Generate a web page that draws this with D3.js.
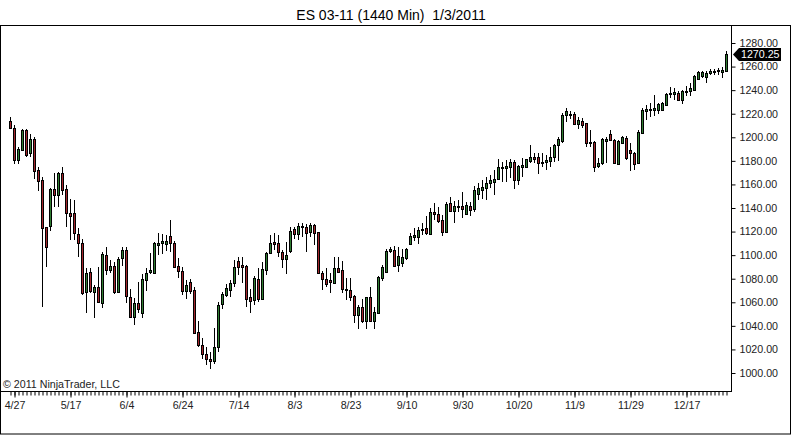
<!DOCTYPE html>
<html><head><meta charset="utf-8">
<script src="https://cdn.jsdelivr.net/npm/d3@7"></script>
<style>
body{margin:0;background:#fff;}
svg{display:block;}
text{font-family:"Liberation Sans",Arial,sans-serif;white-space:pre;}
</style></head>
<body>
<svg id="c" width="792" height="436"></svg>
<script>
// ---- data ----
const openV = [1213.8,1207.6,1180.7,1189.2,1206.2,1186.4,1198.5,1172.2,1163.7,1123.6,
1124.7,1155.8,1151,1170,1155.8,1135.5,1135.5,1118,1110,1069,
1085.7,1069,1072.7,1059.7,1100,1087.4,1090.8,1069,1097.3,1104.4,
1064.2,1047.8,1059.1,1050.6,1078.9,1085.7,1085,1108.9,1110,1109.4,
1116.2,1110.6,1090.8,1086.8,1069.9,1077.5,1070.4,1035,1024,1016,
1012,1010,1022,1058.5,1066.2,1070.4,1076,1095,1091.6,1090.8,
1064.2,1061.9,1079.7,1062.8,1087.4,1101.5,1110.9,1110,1102.4,1096.4,
1103.8,1121.9,1117.9,1123.6,1123.6,1119.6,1125.6,1119.3,1084.6,1079.5,
1078.9,1076.6,1088.8,1087.4,1071.6,1070.4,1065.3,1049.2,1055.7,1044.4,
1064.2,1044.4,1051.2,1080.3,1086,1103.2,1104.4,1091.6,1093.6,1097.3,
1109.4,1115.7,1115.1,1121,1123.3,1118,1136.9,1134.9,1129.8,1119.9,
1144.5,1137.7,1141.7,1141.5,1134.9,1142,1139,1151.9,1155.3,1156.7,
1161.5,1162.3,1164.3,1173.6,1173.6,1174.5,1179.3,1163.7,1174.5,1175,
1180.1,1183,1183,1179.3,1179.3,1180.1,1183,1193.4,1197.1,1218.9,
1219.2,1219.7,1211.3,1214.1,1211.8,1196.3,1196.3,1175.6,1177.9,1197.1,
1202.8,1197.7,1177.3,1195.4,1199,1189.2,1187,1177.9,1203.9,1222.6,
1223.1,1223.4,1223.4,1223.4,1227.6,1236.7,1236.7,1237.5,1231.9,1238.4,
1239.5,1240.4,1249.7,1251.7,1250.8,1254.5,1255.4,1256,1255.4,1256];
const highV = [1217,1210.4,1192,1207.3,1207.3,1202.8,1200,1175,1166.6,1124.2,
1156.7,1169.4,1170.8,1175,1159.5,1147.3,1146.8,1122.7,1113.4,1088.8,
1088.8,1074.7,1090.2,1103,1107,1095.9,1094.5,1098.7,1107.2,1107.2,
1071,1063.3,1077.5,1084,1088.8,1101.5,1111.4,1118.5,1118,1117,
1129.8,1112,1097.3,1090.2,1078.9,1079.5,1072.7,1044.4,1030,1022,
1018,1038,1060.5,1069,1075.5,1078.9,1095.9,1098.7,1098.7,1091.5,
1071,1082,1088.8,1094.5,1103,1117,1118.5,1117,1104,1111.4,
1124.2,1123.6,1127,1127.5,1126.4,1127,1126.4,1119.9,1086.8,1088.8,
1084.6,1098.1,1098.1,1095.3,1080.3,1080.3,1066.2,1057.7,1062.5,1064.8,
1072.7,1055.7,1082.3,1091.6,1104.9,1107.2,1107.7,1106.6,1104.9,1105.8,
1118.5,1122.7,1123.6,1127,1133.2,1139.7,1143.9,1140.6,1134,1145.4,
1149.6,1146.2,1146.8,1153.5,1145,1145,1158.6,1161.5,1163.7,1166,
1168,1172.2,1181.3,1179.3,1180.7,1181.3,1180.7,1176.5,1182.1,1181.8,
1193.4,1187,1187,1186.4,1185,1192,1194.3,1200,1220.3,1224.5,
1222.6,1221.7,1216.9,1216,1212.4,1206.2,1197.1,1182.1,1199.1,1200.5,
1206.2,1198.2,1198,1201,1201,1194.9,1187.8,1206.2,1224.5,1227.4,
1229,1236.1,1229,1230,1237.5,1242.4,1241.8,1239,1240.4,1243.2,
1246,1252.5,1256.5,1256.5,1256.5,1258.2,1258.2,1258.8,1259.3,1273.5];
const lowV = [1207,1177.3,1177,1188.6,1183,1183.5,1164.3,1154.7,1055.7,1090.2,
1120.8,1140.6,1140.6,1151,1123.6,1112.8,1112.8,1098.7,1066,1050.6,
1067.6,1046.4,1059.7,1054.9,1083,1085,1067,1067.6,1090.8,1059.1,
1046.4,1040.7,1050.6,1046.4,1069.9,1084,1084,1100,1101,1103.8,
1103,1088.8,1080.3,1066.2,1062.5,1067,1033.7,1022.3,1012,1007,
1003,1008,1018,1054,1064.8,1064.8,1072.7,1083.1,1076,1056.3,
1050.6,1058,1060.5,1062,1083,1101,1104.4,1098.7,1088.8,1084,
1101.5,1113.4,1112.8,1115.7,1103,1115.7,1108.6,1084,1070.4,1072.7,
1068.2,1075.5,1084.6,1068.2,1061.9,1061.4,1042.1,1037,1042.1,1037,
1043.6,1037,1050.6,1078,1085.1,1101.5,1089.6,1086,1090.2,1095.9,
1108.6,1112.3,1109.4,1117,1117,1117,1129.8,1127,1116.2,1118.5,
1136.9,1127,1136.9,1131.2,1134,1133,1137,1146.8,1147.3,1146.8,
1156.7,1151,1163.7,1162.3,1162.3,1165.2,1155.8,1159.5,1166,1173.6,
1178.4,1177.9,1168.8,1175,1172.2,1175,1179.3,1180,1195.4,1213.2,
1215.2,1210.4,1206.7,1207.6,1191.5,1192,1170.8,1173.6,1176.5,1178.4,
1197,1177.3,1176.5,1194.9,1180.7,1171.7,1172.2,1177.3,1203.3,1215,
1217,1217.8,1219.7,1222,1227,1233.3,1231.9,1231,1228.2,1234.7,
1234.7,1239.5,1248.9,1250.3,1246,1253.1,1253.1,1253.1,1250.3,1255.4];
const closeV = [1207.6,1180.7,1189.8,1206.2,1185,1198.5,1171.7,1163.2,1122.7,1107.2,
1155.8,1151,1170,1155.3,1135.5,1133.2,1118.5,1110,1068,1085,
1069.9,1072.7,1060.5,1101,1087.4,1090.8,1069,1096.4,1104.4,1065.6,
1047.2,1059.1,1054.3,1079.7,1084.6,1087.4,1110,1110.6,1112.3,1112.3,
1110,1090.2,1086.8,1069.9,1074.7,1069.9,1034.2,1023.8,1016,1012,
1010,1022,1058,1066.7,1071.8,1076.6,1089.6,1090.2,1090.2,1062.8,
1061,1080.3,1062.8,1088.2,1101.5,1110,1109.2,1102.4,1096.4,1100,
1120.8,1117.9,1124.7,1124.7,1119,1125.6,1119,1084.6,1079.5,1075.5,
1077.2,1088.8,1086,1071,1070.4,1064.8,1049.2,1055.7,1044.4,1064.2,
1044.4,1052,1081.7,1090.2,1103.8,1104.9,1090.8,1099.3,1098.7,1104.9,
1116.2,1116.8,1121.3,1122.4,1119,1136.9,1134.9,1129.2,1119.9,1143.4,
1137.7,1141.7,1140.6,1139,1142.5,1138,1155.3,1156.7,1157.5,1161.5,
1163.7,1164.9,1175,1175,1175.6,1179.3,1163.7,1175.6,1176.5,1181.3,
1183.5,1181.8,1178.4,1178.4,1180.7,1183.5,1193.4,1198.2,1218.9,1222.6,
1219.7,1211.3,1214.6,1210.4,1194.9,1195.4,1175,1178.4,1198.2,1198.2,
1197.7,1177.9,1197.1,1200,1182.1,1187,1177.3,1204.8,1223.1,1223.9,
1224.3,1224.8,1228.2,1229,1236.7,1237.5,1238.4,1231.9,1239.5,1239.5,
1241.8,1251.7,1255.4,1255.4,1254.5,1256,1256.5,1257.3,1257.3,1270.25];
const xTickIndex = [1,15,29,43,57,71,85,99,113,127,141,155,169];
const xTickLabels = ["4/27","5/17","6/4","6/24","7/14","8/3","8/23","9/10","9/30","10/20","11/9","11/29","12/17"];
const yTicks = [1000,1020,1040,1060,1080,1100,1120,1140,1160,1180,1200,1220,1240,1260,1280];
const titleText = "ES 03-11 (1440 Min)  1/3/2011";
const lastPrice = 1270.25;

// ---- drawing ----
const svg = d3.select("#c");
const plotR = 731, plotB = 391;
const FS = "10.67px";
const n = openV.length;
const idx = d3.range(n);
const x = d3.scaleBand().domain(idx).range([8.5, 8.5 + 4*n]).paddingInner(0);
const cx = i => x(i) + x.bandwidth()/2;
const y = d3.scaleLinear().domain([1000,1280]).range([373,43]);
const py = v => Math.round(y(v));

// frame
svg.append("rect").attr("x",0.5).attr("y",25.5).attr("width",790).attr("height",408.5)
  .attr("fill","none").attr("stroke","#000");
svg.append("line").attr("x1",plotR+0.5).attr("x2",plotR+0.5).attr("y1",25).attr("y2",plotB+0.5).attr("stroke","#000");
svg.append("line").attr("x1",0).attr("x2",plotR+1).attr("y1",plotB+0.5).attr("y2",plotB+0.5).attr("stroke","#000");

// title
svg.append("text").attr("x",391).attr("y",20).attr("text-anchor","middle")
  .attr("font-size","14px").attr("fill","#000").attr("xml:space","preserve").text(titleText);

// candles
const g = svg.append("g");
idx.forEach(i => {
  const up = closeV[i] >= openV[i];
  const xc = Math.floor(cx(i)) + 0.5;
  g.append("line").attr("x1",xc).attr("x2",xc)
    .attr("y1",py(highV[i])).attr("y2",py(lowV[i])).attr("stroke","#000").attr("stroke-width",1);
  const top = py(Math.max(openV[i],closeV[i])), bot = py(Math.min(openV[i],closeV[i]));
  g.append("rect").attr("x",xc-1).attr("y",top+0.5).attr("width",2).attr("height",Math.max(bot-top,1))
    .attr("fill", up ? "#2f7d32" : "#a3262d").attr("stroke","#000").attr("stroke-width",1);
});

// y axis
const yAxis = d3.axisRight(y).tickValues(yTicks).tickSize(4).tickPadding(4).tickFormat(d3.format(".2f"));
const ya = svg.append("g").attr("transform",`translate(${plotR+0.5},0)`).call(yAxis);
ya.select(".domain").remove();
ya.selectAll("line").attr("stroke","#000");
ya.selectAll("text").attr("font-size",FS).attr("fill","#222").attr("font-family","Liberation Sans, Arial, sans-serif");

// x axis minor ticks
const xa1 = svg.append("g").attr("transform",`translate(0.5,${plotB+0.5})`)
  .call(d3.axisBottom(x).tickValues(idx).tickSize(4).tickFormat(""));
xa1.select(".domain").remove();
xa1.selectAll("line").attr("stroke","#000");
// x axis major ticks + labels
const xa2 = svg.append("g").attr("transform",`translate(0.5,${plotB+0.5})`)
  .call(d3.axisBottom(x).tickValues(xTickIndex).tickSize(6).tickPadding(4).tickFormat((d,k)=>xTickLabels[k]));
xa2.select(".domain").remove();
xa2.selectAll("line").attr("stroke","#000");
xa2.selectAll("text").attr("font-size",FS).attr("fill","#222").attr("font-family","Liberation Sans, Arial, sans-serif");

// copyright
svg.append("text").attr("x",3).attr("y",388).attr("font-size",FS).attr("fill","#222")
  .text("\u00a9 2011 NinjaTrader, LLC");

// last price marker
const ly = y(lastPrice);
svg.append("path").attr("d",`M733,${ly} L739,${ly-6.5} L781,${ly-6.5} L781,${ly+6.5} L739,${ly+6.5} Z`).attr("fill","#000");
svg.append("text").attr("x",741).attr("y",ly+4).attr("font-size",FS).attr("fill","#fff").text(lastPrice.toFixed(2));
</script>
</body></html>
